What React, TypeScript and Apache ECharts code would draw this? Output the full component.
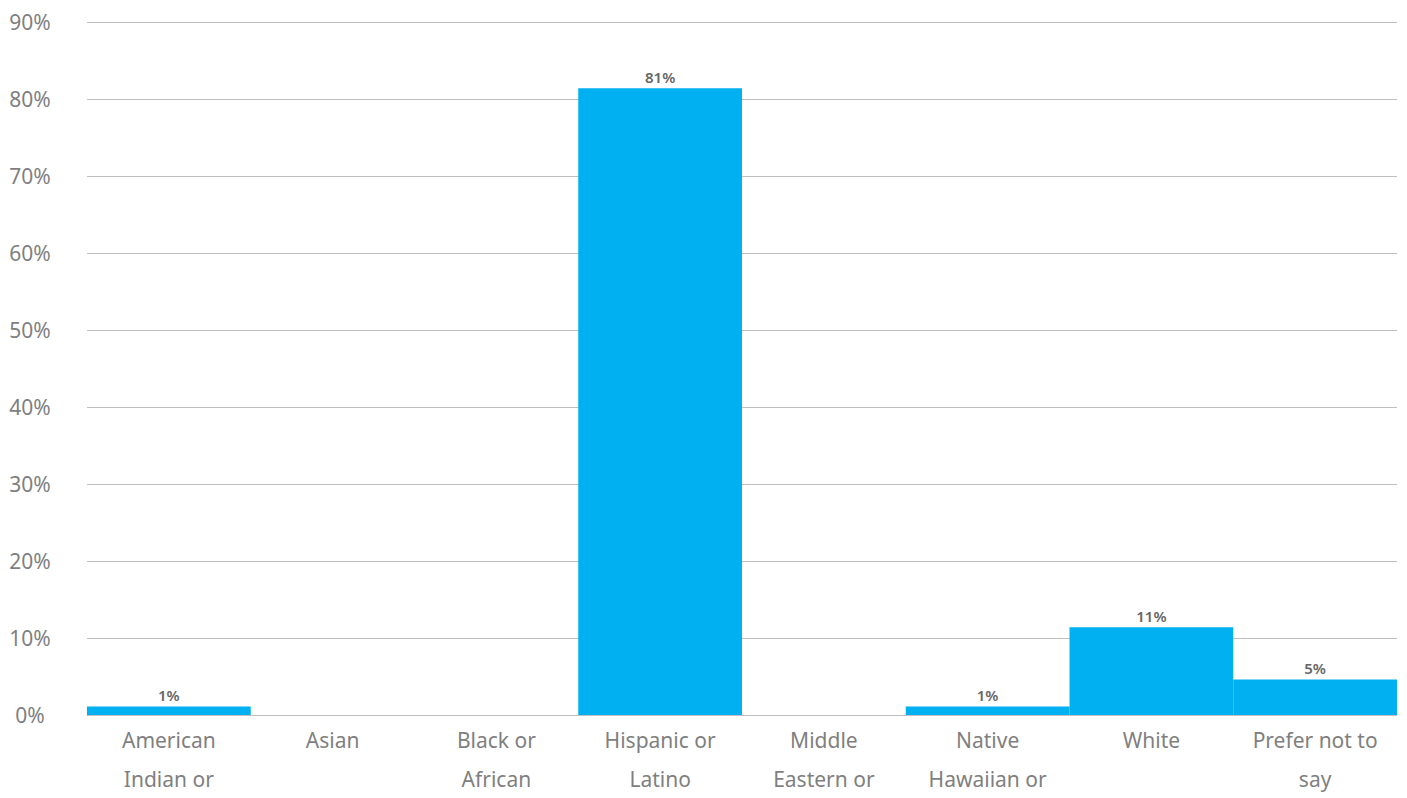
import React, { useEffect, useRef } from "react";
import * as echarts from "echarts";

const categories = [
  "American\nIndian or",
  "Asian",
  "Black or\nAfrican",
  "Hispanic or\nLatino",
  "Middle\nEastern or",
  "Native\nHawaiian or",
  "White",
  "Prefer not to\nsay",
];
const values = [1.1, 0, 0, 81.4, 0, 1.1, 11.4, 4.6];
const yTicks = { min: 0, max: 90, interval: 10 };

export default function App() {
  const ref = useRef<HTMLDivElement>(null);
  useEffect(() => {
    if (!ref.current) return;
    const chart = echarts.init(ref.current, null, { renderer: "svg" });
    chart.setOption({
      animation: false,
      backgroundColor: "#ffffff",
      textStyle: { fontFamily: "Noto Sans" },
      grid: { left: 87, right: 10, top: 22, bottom: 76 },
      xAxis: {
        type: "category",
        data: categories,
        axisTick: { show: false },
        axisLine: { show: true, lineStyle: { color: "#BFBFBF", width: 1 } },
        axisLabel: {
          color: "#7F7F7F",
          fontSize: 21,
          lineHeight: 39,
          margin: 5,
          interval: 0,
          fontFamily: "Noto Sans",
        },
      },
      yAxis: {
        type: "value",
        min: yTicks.min,
        max: yTicks.max,
        interval: yTicks.interval,
        axisLine: { show: false },
        axisTick: { show: false },
        splitLine: { lineStyle: { color: "#BFBFBF", width: 1 } },
        axisLabel: {
          formatter: "{value}%",
          color: "#7F7F7F",
          fontSize: 21,
          align: "center",
          margin: 57,
          fontFamily: "Noto Sans",
        },
      },
      series: [
        {
          type: "bar",
          data: values.map((v) => (v === 0 ? null : v)),
          barWidth: "100%",
          barCategoryGap: "0%",
          itemStyle: { color: "#00B0F0" },
          label: {
            show: true,
            position: "top",
            distance: 4,
            color: "#666666",
            fontSize: 15,
            fontWeight: 600,
            fontFamily: "Noto Sans",
            formatter: (p: any) => `${Math.round(p.value)}%`,
          },
        },
      ],
    });
    return () => chart.dispose();
  }, []);
  return (
    <div
      ref={ref}
      style={{ position: "absolute", left: 0, top: 0, width: 1407, height: 798 }}
    />
  );
}
